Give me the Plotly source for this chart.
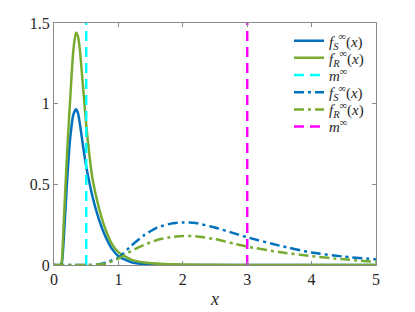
import plotly.graph_objects as go

# ---- data ----
x_solid = [0, 0.1, 0.12, 0.15, 0.2, 0.25, 0.3, 0.34, 0.37, 0.4, 0.45, 0.5, 0.55, 0.6,
           0.7, 0.8, 0.9, 1.0, 1.2, 1.4, 1.7, 2.0, 2.5, 3.0, 4.0, 5.0]
fS_solid = [0, 0, 0.01, 0.15, 0.5, 0.78, 0.93, 0.965, 0.945, 0.88, 0.74, 0.61, 0.51, 0.42,
            0.28, 0.175, 0.10, 0.055, 0.017, 0.005, 0.001, 0, 0, 0, 0, 0]
fR_solid = [0, 0, 0.02, 0.25, 0.67, 1.02, 1.33, 1.44, 1.42, 1.34, 1.11, 0.87, 0.68, 0.53,
            0.35, 0.22, 0.13, 0.08, 0.033, 0.015, 0.006, 0.003, 0.001, 0, 0, 0]
m_solid = 0.5

x_dash = [0, 0.5, 0.65, 0.8, 1.0, 1.2, 1.4, 1.6, 1.8, 2.0, 2.2, 2.5, 2.8, 3.0,
          3.5, 4.0, 4.5, 5.0]
fS_dash = [0, 0, 0.002, 0.015, 0.045, 0.12, 0.185, 0.232, 0.255, 0.264, 0.26, 0.232,
           0.196, 0.172, 0.12, 0.077, 0.052, 0.035]
fR_dash = [0, 0, 0.001, 0.008, 0.04, 0.087, 0.125, 0.155, 0.172, 0.18, 0.178, 0.16,
           0.132, 0.114, 0.08, 0.055, 0.035, 0.02]
m_dash = 3.0

x_ticks = [0, 1, 2, 3, 4, 5]
y_ticks = [0, 0.5, 1, 1.5]
y_tick_labels = ["0", "0.5", "1", "1.5"]

labels = [
    "<i>f</i><sub><i>S</i></sub><sup>∞</sup>(<i>x</i>)",
    "<i>f</i><sub><i>R</i></sub><sup>∞</sup>(<i>x</i>)",
    "<i>m</i><sup>∞</sup>",
]

BLUE = "#0072BD"
GREEN = "#77AC30"
CYAN = "#00FFFF"
MAGENTA = "#FF00FF"
LW = 2.5
DASH = "10px,6px"
DASHDOT = "10px,4px,3px,4px"
Y_TOP = 1.5
FONT = "Liberation Serif, Times New Roman, serif"

# one legend per entry so the rows can be spaced as tightly as in the reference
legend_names = ["legend", "legend2", "legend3", "legend4", "legend5", "legend6"]
legend_row_y = [0.926, 0.855, 0.784, 0.713, 0.642, 0.571]   # paper coords of row centres

specs = [
    (x_solid, fS_solid, labels[0], BLUE, "solid", True),
    (x_solid, fR_solid, labels[1], GREEN, "solid", True),
    ([m_solid, m_solid], [0, Y_TOP], labels[2], CYAN, DASH, False),
    (x_dash, fS_dash, labels[0], BLUE, DASHDOT, True),
    (x_dash, fR_dash, labels[1], GREEN, DASHDOT, True),
    ([m_dash, m_dash], [0, Y_TOP], labels[2], MAGENTA, DASH, False),
]

fig = go.Figure()
for (xs, ys, name, color, dash, smooth), lg in zip(specs, legend_names):
    line = dict(color=color, width=LW, dash=dash)
    if smooth:
        line.update(shape="spline", smoothing=0.6)
    fig.add_trace(go.Scatter(x=xs, y=ys, mode="lines", name=name, line=line, legend=lg))

axis_common = dict(
    showgrid=False, zeroline=False, showline=True, linecolor="#8a8a8a", linewidth=1,
    mirror="ticks", ticks="inside", ticklen=4, tickcolor="#8a8a8a", tickwidth=1,
    tickfont=dict(family=FONT, size=16, color="#262626"),
    automargin=False,
)

legend_style = dict(x=0.7298, xanchor="left", yanchor="middle",
                    bgcolor="rgba(0,0,0,0)", borderwidth=0,
                    font=dict(family=FONT, size=15, color="#262626"),
                    itemwidth=30)

layout_legends = {lg: dict(y=yy, **legend_style) for lg, yy in zip(legend_names, legend_row_y)}

# page body has an 8px margin, so the figure is offset by (8, 8)
fig.update_layout(
    width=407, height=304,
    margin=dict(l=46, r=39, t=15, b=47),
    paper_bgcolor="white", plot_bgcolor="white",
    showlegend=True,
    xaxis=dict(range=[0, 5], tickvals=x_ticks, ticktext=[str(v) for v in x_ticks],
               title=dict(text="<i>x</i>", font=dict(family=FONT, size=18, color="#262626"),
                          standoff=5),
               **axis_common),
    yaxis=dict(range=[0, 1.5], tickvals=y_ticks, ticktext=y_tick_labels, **axis_common),
    **layout_legends,
)

fig.write_html("out.html")
